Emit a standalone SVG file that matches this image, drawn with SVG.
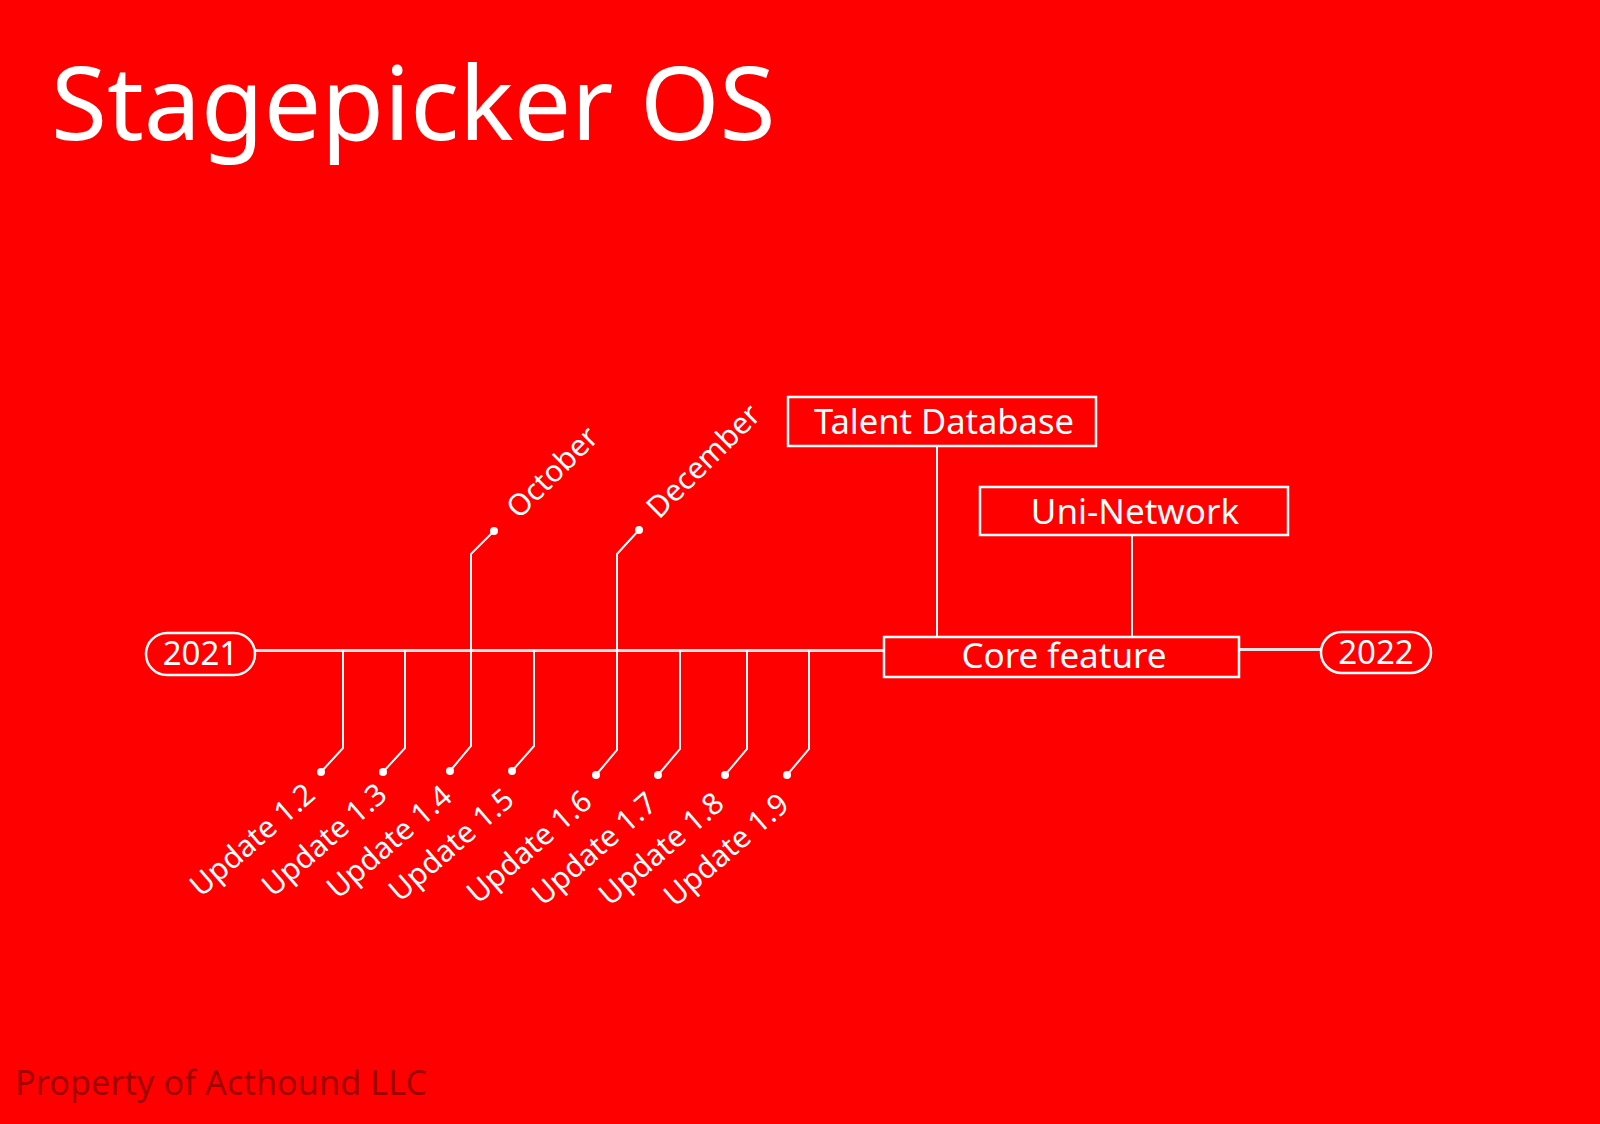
<svg xmlns="http://www.w3.org/2000/svg" width="1600" height="1124" viewBox="0 0 1600 1124">
<style>
.t{font-family:"Noto Sans","DejaVu Sans",sans-serif;fill:#fff}
.lbl{font-family:"Noto Sans","DejaVu Sans",sans-serif;fill:#fff;font-size:30px}
.box{fill:none;stroke:#fff;stroke-width:2.5}
.pill{fill:none;stroke:#fff;stroke-width:2.5}
.tick{fill:none;stroke:#fff;stroke-width:2}
.main{fill:none;stroke:#e4e4e4;stroke-width:3}
.dot{fill:#fff}
</style>
<rect width="1600" height="1124" fill="#ff0000"/>
<text class="t" x="51" y="140" font-size="102">Stagepicker OS</text>
<text x="15" y="1095" font-family="'Noto Sans','DejaVu Sans',sans-serif" font-size="34" fill="#a00000" textLength="412">Property of Acthound LLC</text>

<g id="connectors">
<line class="main" x1="255" y1="650.5" x2="883" y2="650.5"/>
<line class="main" x1="1240" y1="649.5" x2="1321" y2="649.5"/>
<line class="tick" x1="937" y1="446" x2="937" y2="636"/>
<line class="tick" x1="1132" y1="535" x2="1132" y2="636"/>
<polyline class="tick" points="343,650 343,748 321,772"/>
<polyline class="tick" points="405,650 405,748 383,772"/>
<polyline class="tick" points="494,531 471,554 471,746 450,771"/>
<polyline class="tick" points="534,650 534,746 512,771"/>
<polyline class="tick" points="639,530 617,554 617,750 596,775"/>
<polyline class="tick" points="680,650 680,749 658,775"/>
<polyline class="tick" points="747,650 747,749 725,775"/>
<polyline class="tick" points="809,650 809,749 787,775"/>
<circle class="dot" cx="321" cy="772" r="4"/>
<circle class="dot" cx="383" cy="772" r="4"/>
<circle class="dot" cx="450" cy="771" r="4"/>
<circle class="dot" cx="512" cy="771" r="4"/>
<circle class="dot" cx="596" cy="775" r="4"/>
<circle class="dot" cx="658" cy="775" r="4"/>
<circle class="dot" cx="725" cy="775" r="4"/>
<circle class="dot" cx="787" cy="775" r="4"/>
<circle class="dot" cx="494" cy="531" r="4"/>
<circle class="dot" cx="639" cy="530" r="4"/>
</g>

<g id="node-2021">
<rect class="pill" x="146" y="633" width="109" height="42" rx="21"/>
<text class="t" x="200.5" y="665" font-size="33" text-anchor="middle">2021</text>
</g>
<g id="node-2022">
<rect class="pill" x="1321" y="632" width="110" height="41" rx="20.5"/>
<text class="t" x="1376" y="664" font-size="33" text-anchor="middle">2022</text>
</g>
<g id="node-core">
<rect class="box" x="884" y="637" width="355" height="40" stroke-width="3.5"/>
<text class="t" x="1064" y="668" font-size="35" text-anchor="middle">Core feature</text>
</g>
<g id="node-talent">
<rect class="box" x="788" y="397" width="308" height="49"/>
<text class="t" x="944" y="434" font-size="34.5" text-anchor="middle">Talent Database</text>
</g>
<g id="node-uni">
<rect class="box" x="980" y="487" width="308" height="48"/>
<text class="t" x="1135" y="524" font-size="35" text-anchor="middle">Uni-Network</text>
</g>

<g id="labels">
<text class="lbl" x="201" y="898" transform="rotate(-41 201 898)">Update 1.2</text>
<text class="lbl" x="273" y="898" transform="rotate(-41 273 898)">Update 1.3</text>
<text class="lbl" x="338" y="900" transform="rotate(-41 338 900)">Update 1.4</text>
<text class="lbl" x="400" y="903" transform="rotate(-41 400 903)">Update 1.5</text>
<text class="lbl" x="478" y="905" transform="rotate(-41 478 905)">Update 1.6</text>
<text class="lbl" x="543" y="907" transform="rotate(-41 543 907)">Update 1.7</text>
<text class="lbl" x="610" y="907" transform="rotate(-41 610 907)">Update 1.8</text>
<text class="lbl" x="675" y="908" transform="rotate(-41 675 908)">Update 1.9</text>
<text class="lbl" x="519" y="520" transform="rotate(-45 519 520)">October</text>
<text class="lbl" x="659" y="520" transform="rotate(-45 659 520)">December</text>
</g>
</svg>
